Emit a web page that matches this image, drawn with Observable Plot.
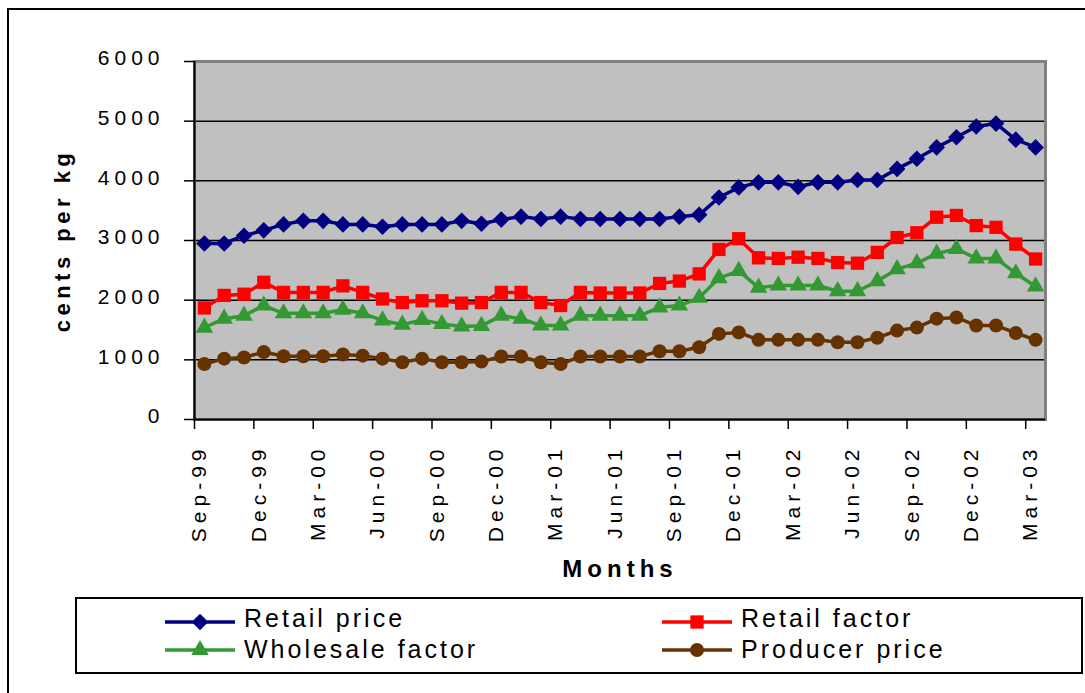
<!DOCTYPE html>
<html><head><meta charset="utf-8">
<script src="https://cdn.jsdelivr.net/npm/d3@7"></script>
<script src="https://cdn.jsdelivr.net/npm/@observablehq/plot@0.6"></script>
<style>
html,body{margin:0;padding:0;background:#fff;overflow:hidden;width:1085px;height:693px;position:relative;}
#frame{position:absolute;left:7px;top:8px;width:1200px;height:800px;border:2px solid #000;box-sizing:border-box;}
#chart{position:absolute;left:0;top:0;}
#legend{position:absolute;left:75px;top:597px;width:1008px;height:77px;border:2px solid #000;box-sizing:border-box;background:#fff;}
#legend svg{position:absolute;left:0;top:0;}
</style></head><body>
<div id="frame"></div>
<div id="chart"></div>
<div id="legend"></div>
<script>
const months = ["Sep-99","Oct-99","Nov-99","Dec-99","Jan-00","Feb-00","Mar-00","Apr-00","May-00","Jun-00","Jul-00","Aug-00","Sep-00","Oct-00","Nov-00","Dec-00","Jan-01","Feb-01","Mar-01","Apr-01","May-01","Jun-01","Jul-01","Aug-01","Sep-01","Oct-01","Nov-01","Dec-01","Jan-02","Feb-02","Mar-02","Apr-02","May-02","Jun-02","Jul-02","Aug-02","Sep-02","Oct-02","Nov-02","Dec-02","Jan-03","Feb-03","Mar-03"];
const tickMonths = ["Sep-99","Dec-99","Mar-00","Jun-00","Sep-00","Dec-00","Mar-01","Jun-01","Sep-01","Dec-01","Mar-02","Jun-02","Sep-02","Dec-02","Mar-03"];
const yTicks = [0,1000,2000,3000,4000,5000,6000];

const retailPrice = [2950,2950,3080,3170,3270,3330,3330,3270,3270,3230,3270,3270,3270,3330,3280,3350,3400,3360,3400,3360,3360,3360,3360,3360,3400,3430,3720,3890,3975,3975,3900,3975,3975,4015,4015,4200,4370,4560,4730,4910,4960,4690,4560];
const retailFactor = [1870,2080,2100,2300,2130,2130,2130,2240,2130,2020,1960,1990,1990,1950,1960,2130,2130,1960,1910,2130,2120,2120,2120,2280,2320,2440,2850,3030,2710,2700,2720,2700,2630,2620,2800,3050,3130,3390,3420,3250,3220,2940,2690];
const wholesaleFactor = [1540,1690,1740,1910,1780,1780,1780,1840,1780,1660,1590,1670,1600,1560,1570,1740,1690,1575,1575,1740,1740,1740,1740,1880,1910,2040,2370,2490,2210,2245,2245,2245,2150,2150,2320,2520,2620,2780,2860,2700,2700,2450,2230];
const producerPrice = [930,1020,1040,1130,1060,1060,1060,1090,1070,1020,960,1020,960,960,970,1055,1055,960,930,1055,1055,1055,1055,1145,1145,1210,1435,1460,1335,1335,1335,1335,1295,1295,1370,1490,1540,1690,1710,1575,1575,1450,1335];

const seriesNames = ["Retail price","Retail factor","Wholesale factor","Producer price"];
const seriesColors = ["#000080","#ff0000","#339933","#663300"];
const seriesSymbols = ["diamond2","square","triangle","circle"];
const seriesR = [7.5,7.5,6.5,7];
const seriesValues = [retailPrice, retailFactor, wholesaleFactor, producerPrice];

const W = 1085, H = 590, mL = 194, mR = 40, mT = 61, mB = 171;
const bw = (W - mL - mR) / months.length;
const FONT = "'Liberation Sans', Arial, sans-serif";

const data = seriesValues.map((vals, k) => vals.map((v, i) => ({month: months[i], value: v, series: seriesNames[k]})));

const marks = [
  Plot.frame({fill: "#c0c0c0"}),
  Plot.gridY(yTicks.filter(t => t > 0 && t < 6000), {stroke: "#000", strokeOpacity: 1, strokeWidth: 1.5}),
  ...data.flatMap((d, k) => [
    Plot.line(d, {x: "month", y: "value", stroke: seriesColors[k], strokeWidth: 3.5}),
    Plot.dot(d, {x: "month", y: "value", symbol: seriesSymbols[k], r: seriesR[k], fill: seriesColors[k], stroke: null})
  ]),
  Plot.frame({stroke: "#808080", strokeWidth: 3}),
  Plot.ruleY([0], {stroke: "#000", strokeWidth: 2}),
  Plot.ruleX([months[0]], {stroke: "#000", strokeWidth: 2, dx: -bw / 2}),
  Plot.axisY({ticks: yTicks, tickSize: 10, tickFormat: () => "", stroke: "#000", strokeWidth: 1.5, label: null}),
  Plot.axisY({ticks: yTicks, tickSize: 0, tickPadding: 30, dy: -3, fontSize: 21, tickFormat: d => String(d), label: null, fill: "#000"}),
  Plot.axisY({ticks: [], tickSize: 0, label: "cents per kg", labelArrow: false, labelAnchor: "center", labelOffset: 140, fontSize: 22, fontWeight: "bold", fill: "#000"}),
  Plot.axisX({ticks: tickMonths, tickSize: 10, tickFormat: () => "", dx: -bw / 2, stroke: "#000", strokeWidth: 1.5, label: null}),
  Plot.axisX({ticks: tickMonths, tickSize: 0, tickPadding: 25, tickRotate: -90, dx: -5, fontSize: 21, label: null, fill: "#000"}),
  Plot.axisX({ticks: [], tickSize: 0, label: "Months", labelArrow: false, labelAnchor: "center", labelOffset: 157, fontSize: 24, fontWeight: "bold", fill: "#000"})
];

const svg = Plot.plot({
  width: W, height: H,
  marginLeft: mL, marginRight: mR, marginTop: mT, marginBottom: mB,
  x: {type: "band", domain: months, padding: 0},
  y: {domain: [0, 6000]},
  style: {fontFamily: FONT, background: "transparent", overflow: "visible", color: "#000"},
  marks
});
document.getElementById("chart").append(svg);

const s = d3.select(svg);
s.selectAll('g[aria-label="y-axis tick label"]').style("font-size", "21px");
s.selectAll('g[aria-label="y-axis tick label"] text').style("letter-spacing", "5px");
s.selectAll('g[aria-label="x-axis tick label"]').style("font-size", "21px");
s.selectAll('g[aria-label="x-axis tick label"] text').style("letter-spacing", "5px");
s.selectAll('g[aria-label="y-axis label"]').style("font-size", "22px").style("font-weight", "bold");
s.selectAll('g[aria-label="y-axis label"] text').style("letter-spacing", "4.5px");
s.selectAll('g[aria-label="x-axis label"]').style("font-size", "24px").style("font-weight", "bold");
s.selectAll('g[aria-label="x-axis label"] text').style("letter-spacing", "5px");

// legend
const lg = d3.select("#legend").append("svg").attr("width", 1004).attr("height", 73);
const cols = [0, 497];
const symMap = {diamond2: d3.symbolDiamond2, square: d3.symbolSquare, triangle: d3.symbolTriangle, circle: d3.symbolCircle};
seriesNames.forEach((name, k) => {
  const cx = cols[k % 2];
  const row = Math.floor(k / 2);
  const ly = row === 0 ? 23 : 51;
  const ty = row === 0 ? 28 : 59;
  const g = lg.append("g");
  g.append("line").attr("x1", 88 + cx).attr("x2", 158 + cx).attr("y1", ly).attr("y2", ly)
    .attr("stroke", seriesColors[k]).attr("stroke-width", 3.5);
  g.append("path").attr("d", d3.symbol(symMap[seriesSymbols[k]], Math.PI * seriesR[k] * seriesR[k])())
    .attr("transform", `translate(${123 + cx},${ly})`).attr("fill", seriesColors[k]);
  g.append("text").attr("x", 167 + cx).attr("y", ty).text(name)
    .attr("font-family", FONT).attr("font-size", 25).attr("fill", "#000").style("letter-spacing", "3px");
});
</script>
</body></html>
